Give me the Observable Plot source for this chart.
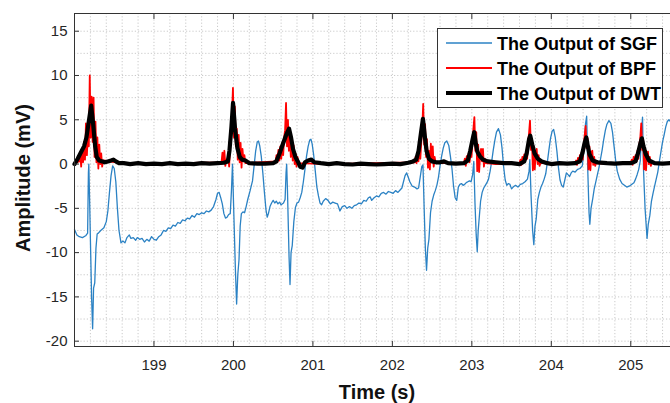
<!DOCTYPE html>
<html><head><meta charset="utf-8">
<script src="https://cdn.jsdelivr.net/npm/d3@7"></script>
<script src="https://cdn.jsdelivr.net/npm/@observablehq/plot@0.6"></script>
<style>
html,body{margin:0;padding:0;background:#fff;}
#chart{position:relative;width:670px;height:403px;overflow:hidden;}
</style>
</head><body><div id="chart"></div>
<script>
// ---- tick labels / axis text ----
const xTicks = [199, 200, 201, 202, 203, 204, 205];
const yTicks = [-20, -15, -10, -5, 0, 5, 10, 15];
const xLabel = "Time (s)";
const yLabel = "Amplitude (mV)";
const seriesNames = ["The Output of SGF", "The Output of BPF", "The Output of DWT"];

// ---- SGF output (blue) ----
const sgfTime = [198.00,198.03,198.06,198.10,198.14,198.165,198.175,198.18,198.19,198.215,198.228,198.24,198.255,198.27,198.285,198.30,198.33,198.37,198.40,198.42,198.44,198.46,198.48,198.50,198.52,198.54,198.56,198.585,198.61,198.635,198.66,198.69,198.71,198.74,198.77,198.79,198.82,198.85,198.88,198.91,198.94,198.97,199.00,199.03,199.06,199.09,199.12,199.15,199.18,199.21,199.24,199.27,199.30,199.33,199.36,199.39,199.42,199.45,199.48,199.51,199.54,199.57,199.60,199.63,199.66,199.69,199.72,199.75,199.78,199.80,199.82,199.84,199.86,199.88,199.90,199.92,199.94,199.96,199.975,199.988,200.00,200.025,200.04,200.055,200.07,200.085,200.10,200.12,200.14,200.16,200.18,200.21,200.24,200.26,200.28,200.30,200.315,200.33,200.35,200.37,200.39,200.41,200.425,200.44,200.46,200.48,200.50,200.52,200.54,200.56,200.58,200.60,200.63,200.65,200.662,200.67,200.68,200.70,200.712,200.725,200.74,200.76,200.78,200.80,200.82,200.84,200.86,200.88,200.90,200.92,200.94,200.96,200.975,200.99,201.01,201.03,201.05,201.07,201.09,201.11,201.13,201.16,201.19,201.22,201.25,201.28,201.31,201.34,201.37,201.40,201.43,201.46,201.49,201.52,201.55,201.58,201.61,201.64,201.67,201.70,201.72,201.74,201.77,201.80,201.83,201.86,201.89,201.92,201.95,201.98,202.01,202.04,202.07,202.10,202.12,202.14,202.16,202.18,202.20,202.22,202.25,202.28,202.31,202.33,202.35,202.37,202.385,202.40,202.415,202.43,202.445,202.46,202.48,202.50,202.52,202.54,202.56,202.58,202.60,202.62,202.64,202.66,202.685,202.71,202.73,202.75,202.77,202.79,202.81,202.83,202.85,202.87,202.89,202.91,202.93,202.95,202.97,202.99,203.01,203.025,203.04,203.055,203.068,203.08,203.09,203.11,203.13,203.15,203.17,203.19,203.21,203.23,203.25,203.27,203.29,203.31,203.335,203.36,203.38,203.40,203.42,203.44,203.46,203.48,203.50,203.52,203.55,203.58,203.61,203.64,203.67,203.70,203.72,203.73,203.745,203.765,203.78,203.795,203.81,203.83,203.85,203.87,203.89,203.91,203.93,203.95,203.97,203.99,204.01,204.03,204.05,204.07,204.09,204.11,204.13,204.15,204.17,204.19,204.21,204.23,204.25,204.27,204.30,204.33,204.36,204.39,204.41,204.43,204.445,204.46,204.475,204.485,204.50,204.52,204.54,204.56,204.58,204.60,204.62,204.64,204.66,204.68,204.70,204.725,204.75,204.77,204.79,204.81,204.83,204.86,204.89,204.92,204.95,204.98,205.01,205.04,205.06,205.08,205.10,205.12,205.135,205.148,205.16,205.18,205.205,205.22,205.24,205.26,205.28,205.30,205.32,205.34,205.36,205.38,205.40,205.42,205.44,205.46,205.48,205.50];
const sgfValue = [-7.4,-8.0,-8.2,-8.3,-8.1,-7.8,-1.0,0.0,-4.0,-15.0,-18.6,-14.0,-13.4,-9.5,-7.9,-7.8,-7.5,-7.2,-6.5,-5.3,-3.2,-1.3,-0.2,-0.5,-2.0,-5.0,-7.5,-8.9,-8.7,-8.9,-8.3,-8.0,-8.4,-8.3,-8.6,-8.3,-8.5,-8.4,-8.8,-8.5,-8.7,-8.2,-8.5,-8.6,-8.2,-8.0,-7.5,-7.6,-7.2,-7.3,-6.9,-7.0,-6.6,-6.7,-6.3,-6.4,-6.1,-6.2,-5.8,-6.0,-5.6,-5.7,-5.5,-5.6,-5.3,-5.4,-5.2,-4.8,-4.0,-3.3,-3.2,-3.8,-4.5,-5.6,-6.1,-6.0,-5.7,-5.6,-3.0,0.0,-4.0,-12.0,-15.8,-12.5,-10.8,-7.0,-5.6,-5.4,-5.5,-4.8,-4.0,-3.0,-1.9,-0.2,1.5,2.5,2.6,2.1,0.9,-1.0,-3.2,-5.2,-6.0,-5.6,-4.8,-4.4,-4.1,-4.4,-4.2,-4.5,-4.3,-4.6,-4.4,-4.0,-1.0,0.0,-3.0,-10.5,-13.6,-10.0,-9.2,-6.5,-4.9,-4.4,-4.3,-3.8,-3.2,-2.0,-0.6,0.9,2.0,2.7,2.8,2.3,1.0,-0.8,-2.6,-3.6,-4.4,-4.6,-4.2,-3.9,-4.1,-4.5,-4.3,-4.4,-4.5,-5.3,-4.8,-4.7,-5.0,-4.8,-5.0,-4.7,-4.6,-4.4,-4.5,-4.1,-4.2,-3.8,-3.7,-4.1,-3.8,-3.6,-3.7,-3.3,-3.2,-3.4,-3.1,-3.2,-3.3,-3.0,-3.2,-2.9,-2.7,-2.0,-1.3,-1.0,-1.5,-2.0,-2.5,-2.6,-2.8,-2.7,-1.5,-0.3,-0.1,-5.0,-9.5,-12.0,-9.5,-8.5,-5.5,-4.2,-3.5,-3.0,-2.4,-1.5,-0.2,0.9,1.8,2.4,2.6,2.1,0.9,-0.5,-2.5,-3.8,-4.1,-2.6,-2.3,-2.2,-2.4,-2.3,-2.1,-2.0,-1.9,-2.0,-1.2,0.3,-4.5,-8.0,-9.9,-7.5,-6.4,-4.2,-3.2,-2.7,-2.4,-2.1,-1.7,-0.8,0.3,1.6,2.7,3.6,4.0,3.3,1.8,-0.3,-1.8,-2.4,-2.2,-2.3,-2.8,-2.6,-2.4,-2.6,-2.3,-2.2,-2.0,-1.7,-0.8,0.5,-3.5,-7.5,-9.1,-7.0,-6.2,-4.0,-3.2,-2.6,-2.2,-1.7,-1.1,0.2,1.6,2.9,3.7,3.9,3.0,1.5,-0.4,-1.8,-2.4,-2.6,-1.8,-1.0,-1.2,-1.4,-1.0,-0.8,-0.9,-0.6,-0.5,-0.2,1.5,4.5,5.4,-1.0,-5.5,-6.8,-5.0,-4.0,-2.8,-2.0,-1.2,-0.4,0.6,1.6,2.8,3.8,4.5,4.9,4.6,3.6,2.0,0.4,-0.8,-1.7,-2.2,-2.4,-2.6,-2.5,-2.3,-2.1,-1.7,-1.2,-0.6,0.4,3.5,5.3,-0.5,-5.0,-8.4,-6.8,-5.8,-4.2,-3.3,-2.5,-1.7,-0.9,0.3,1.4,2.5,3.3,4.2,4.8,5.0,4.8];

// ---- BPF output (red): sampled bursts around each beat, baseline between ----
const bpfStep = 0.012;
const bpfStart = [198.06, 199.85, 200.53, 202.28, 202.90, 203.60, 204.30, 205.00];
const bpfBurst = [
  [0.3,1.2,-0.3,1.5,0.2,2.5,0.5,4.6,1.0,3.5,2.0,10.0,3.0,7.6,2.5,7.5,0.8,4.8,0.2,3.0,-0.5,2.2,0.0,1.2,-0.3,0.4],
  [0.2,1.3,0.1,1.5,-0.2,0.5,0.3,1.0,-0.3,2.0,4.5,5.6,8.6,3.0,6.5,2.0,4.0,0.5,3.3,0.2,2.4,-0.4,1.7,0.3,1.0,0.1],
  [0.3,1.0,0.2,1.6,0.4,2.0,0.6,2.4,1.0,3.0,3.8,6.9,2.0,5.0,1.5,3.2,0.8,2.8,0.4,2.1,0.0,1.2,-0.3,0.8,0.1],
  [0.2,0.8,0.1,1.2,0.3,1.8,0.6,2.5,4.0,6.8,2.2,4.5,0.8,2.8,-0.4,1.5,-0.6,2.3,0.2,2.0,-0.3,0.8,0.1],
  [0.1,0.6,-0.2,0.9,0.3,1.2,0.2,1.8,0.8,2.5,4.0,5.3,1.5,3.6,-0.8,2.2,-0.9,1.0,1.7,0.3,1.7,-0.3,0.6,0.1],
  [0.1,0.5,-0.1,0.8,0.2,1.1,0.4,1.5,0.6,2.4,3.5,4.9,1.6,2.8,-0.7,2.0,-0.6,1.2,1.7,0.0,1.0,-0.2,0.1],
  [0.1,0.4,-0.1,0.7,0.2,1.0,0.3,1.4,0.5,2.2,3.2,4.3,1.8,2.9,-0.6,2.0,-0.7,1.3,1.5,-0.1,0.8,-0.2,0.1],
  [0.1,0.5,-0.1,0.8,0.2,1.0,0.3,1.5,0.6,2.2,3.0,4.6,1.6,2.7,-0.6,1.8,-0.7,1.2,1.4,0.0,0.8,-0.2,0.1]
];
const bpfBaseTime = [198.0, 198.7, 199.3, 201.2, 201.8, 202.6, 203.3, 204.0, 204.7, 205.5];
const bpfBaseValue = [0.1, 0.0, 0.1, 0.0, 0.1, 0.1, 0.0, 0.1, 0.0, 0.1];

// ---- DWT output (black) ----
const dwtTime = [198.00,198.04,198.08,198.12,198.15,198.18,198.21,198.235,198.26,198.28,198.31,198.35,198.38,198.42,198.46,198.49,198.52,198.56,198.62,198.70,198.80,198.90,199.00,199.10,199.20,199.30,199.40,199.50,199.60,199.70,199.80,199.88,199.93,199.95,199.975,199.995,200.02,200.05,200.08,200.11,200.15,200.20,200.30,200.40,200.50,200.54,200.58,200.62,200.66,200.70,200.725,200.75,200.78,200.81,200.84,200.87,200.90,200.94,200.98,201.02,201.10,201.20,201.30,201.40,201.50,201.60,201.70,201.80,201.90,202.00,202.10,202.20,202.26,202.30,202.33,202.36,202.385,202.41,202.43,202.46,202.50,202.55,202.60,202.65,202.70,202.80,202.90,202.95,202.98,203.01,203.03,203.05,203.07,203.10,203.14,203.20,203.30,203.40,203.50,203.60,203.66,203.69,203.72,203.735,203.76,203.79,203.83,203.88,203.95,204.00,204.10,204.20,204.30,204.36,204.39,204.42,204.44,204.46,204.48,204.52,204.58,204.70,204.80,204.90,205.00,205.06,205.09,205.12,205.14,205.16,205.19,205.23,205.30,205.40,205.50];
const dwtValue = [0.0,0.6,1.3,2.0,3.0,4.8,6.6,4.5,2.0,0.8,0.4,0.3,0.2,0.3,0.4,0.5,0.3,0.1,0.1,0.0,0.1,0.0,0.05,0.0,0.1,0.0,0.05,0.0,0.1,0.05,0.1,0.15,0.3,1.5,4.2,6.9,4.0,1.8,0.8,0.5,0.4,0.1,0.05,0.05,0.1,0.3,1.2,2.2,3.2,4.0,3.0,1.7,0.8,0.3,-0.3,-0.4,0.2,0.4,0.5,0.2,0.1,0.0,0.1,0.0,-0.05,0.05,0.0,-0.05,0.0,0.05,0.0,0.15,0.3,0.5,1.5,3.5,5.1,3.0,1.5,0.6,0.3,0.2,0.2,0.3,0.1,0.05,0.1,0.4,1.5,2.8,3.6,2.3,1.4,0.9,0.5,0.3,0.2,0.1,0.1,0.0,0.3,1.2,2.8,3.2,2.2,1.2,0.6,0.3,0.1,0.0,0.1,0.05,0.1,0.3,1.2,2.4,3.0,2.0,1.1,0.4,0.2,0.1,0.05,0.1,0.1,0.3,1.2,2.3,2.9,2.0,1.1,0.4,0.1,0.05,0.1];

// ---- build tables ----
const sgf = sgfTime.map((t, i) => ({t, v: sgfValue[i]}));
const dwt = dwtTime.map((t, i) => ({t, v: dwtValue[i]}));
const bpf = [];
bpfBaseTime.forEach((t, i) => bpf.push({t, v: bpfBaseValue[i]}));
bpfBurst.forEach((vals, b) => vals.forEach((v, i) => bpf.push({t: +(bpfStart[b] + i * bpfStep).toFixed(4), v})));
bpf.sort((a, b) => a.t - b.t);

const xMinor = d3.range(0, 38).map(i => +(198 + i * 0.2).toFixed(2));
const yMinor = d3.range(-20, 17, 2.5);

const gridStyle = {stroke: "#c4c4c4", strokeOpacity: 0.9, strokeDasharray: "1.2,2"};
const axisColor = "#333333";
const font = "'Liberation Sans', Arial, Helvetica, sans-serif";

const plot = Plot.plot({
  width: 670, height: 403,
  marginLeft: 74, marginRight: 0, marginTop: 13, marginBottom: 57,
  x: {domain: [198, 205.5]},
  y: {domain: [-20.6, 17]},
  style: {fontFamily: font, fontSize: "15px", color: "#262626", background: "white", overflow: "visible"},
  marks: [
    Plot.ruleX(xMinor, gridStyle),
    Plot.ruleY(yMinor, gridStyle),
    Plot.line(sgf, {x: "t", y: "v", stroke: "#2b82c4", strokeWidth: 1.3}),
    Plot.line(bpf, {x: "t", y: "v", stroke: "#ff0000", strokeWidth: 1.8}),
    Plot.line(dwt, {x: "t", y: "v", stroke: "#000000", strokeWidth: 4.2, strokeLinejoin: "round"}),
    Plot.ruleX([198], {stroke: axisColor}),
    Plot.ruleY([-20.6], {stroke: axisColor}),
    Plot.ruleY([17], {stroke: axisColor}),
    Plot.axisX(xTicks, {anchor: "bottom", tickSize: -5, tickPadding: 18, tickFormat: d => String(d), label: null, color: "#262626", stroke: axisColor}),
    Plot.axisX(xTicks, {anchor: "top", tickSize: -5, tickFormat: () => "", label: null, stroke: axisColor}),
    Plot.axisY(yTicks, {anchor: "left", tickSize: -5, tickPadding: 12, tickFormat: d => String(d), label: null, color: "#262626", stroke: axisColor})
  ]
});
document.getElementById("chart").appendChild(plot);

// ---- axis titles and legend ----
const svg = d3.select(plot);
svg.append("text").text(xLabel)
  .attr("x", 377).attr("y", 399).attr("text-anchor", "middle")
  .attr("font-family", font).attr("font-weight", "bold").attr("font-size", 20).attr("fill", "#111");
svg.append("text").text(yLabel)
  .attr("transform", "translate(30,178) rotate(-90)").attr("text-anchor", "middle")
  .attr("font-family", font).attr("font-weight", "bold").attr("font-size", 20).attr("fill", "#111");

const lg = svg.append("g");
lg.append("rect").attr("x", 437.5).attr("y", 28.5).attr("width", 225).attr("height", 79)
  .attr("fill", "white").attr("stroke", "#333").attr("stroke-width", 1);
const legendColors = ["#2b82c4", "#ff0000", "#000000"];
const legendWidths = [1.3, 2, 4.2];
seriesNames.forEach((name, i) => {
  const y = 43 + i * 25;
  lg.append("line").attr("x1", 446).attr("x2", 492).attr("y1", y).attr("y2", y)
    .attr("stroke", legendColors[i]).attr("stroke-width", legendWidths[i]);
  lg.append("text").text(name).attr("x", 497).attr("y", y + 6.5).attr("text-anchor", "start")
    .attr("font-family", font).attr("font-weight", "bold").attr("font-size", 18).attr("fill", "#000");
});
</script>
</body></html>
